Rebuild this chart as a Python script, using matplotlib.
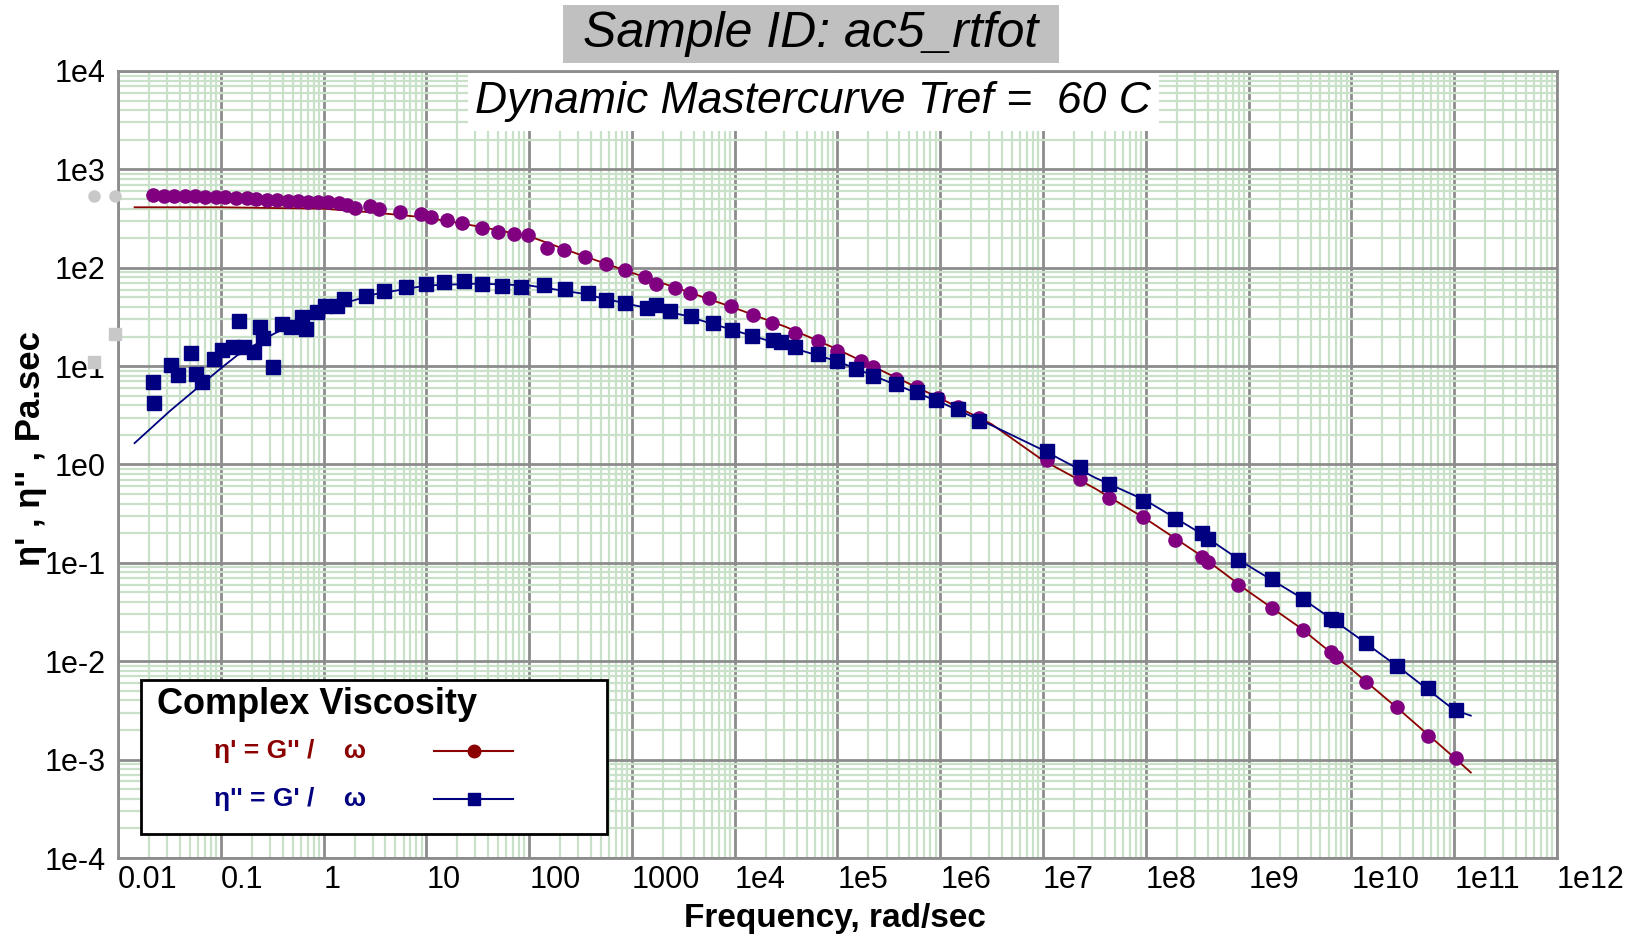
import numpy as np
import matplotlib
matplotlib.use("Agg")
import matplotlib.pyplot as plt
from matplotlib.patches import Rectangle
from matplotlib.lines import Line2D
from matplotlib.ticker import LogLocator, NullFormatter

# eta' = G''/w  (purple circles)
freq_eta1 = [0.022, 0.028, 0.035, 0.045, 0.056, 0.071, 0.089, 0.11, 0.14, 0.18, 0.22, 0.28,
             0.35, 0.45, 0.56, 0.71, 0.89, 1.1, 1.4, 1.7, 2.0, 2.8, 3.5, 5.6, 8.9,
             11, 16, 22, 35, 50, 71, 98, 150, 220, 350, 560, 850, 1350, 1700, 2600, 3700,
             5600, 9300, 1.5e4, 2.3e4, 3.9e4, 6.5e4, 1.0e5, 1.7e5, 2.2e5, 3.7e5, 6.0e5,
             9.5e5, 1.5e6, 2.4e6, 1.1e7, 2.3e7, 4.4e7, 9.3e7, 1.9e8, 3.5e8, 4.0e8, 7.9e8,
             1.7e9, 3.4e9, 6.3e9, 7.0e9, 1.4e10, 2.8e10, 5.6e10, 1.05e11]
eta1 = [543, 537, 537, 531, 531, 525, 525, 520, 515, 507, 495, 490, 490, 478, 478, 470, 468,
        465, 455, 432, 405, 420, 395, 372, 351,
        331, 309, 285, 251, 229, 219, 214,
        157, 151, 129, 110, 95, 81, 69, 62, 55, 49, 41,
        33, 27.5, 21.9, 18, 14.3, 11.2, 9.8, 7.4, 6.1, 4.7, 3.8, 3.0,
        1.10, 0.72, 0.46, 0.29, 0.171, 0.116, 0.101, 0.060,
        0.035, 0.021, 0.0124, 0.011, 0.0062, 0.0034, 0.00174, 0.00104]

# eta'' = G'/w  (navy squares)
freq_eta2 = [0.0217, 0.0226, 0.033, 0.038, 0.051, 0.058, 0.066, 0.085, 0.102, 0.132, 0.15,
             0.17, 0.21, 0.24, 0.26, 0.32, 0.39, 0.48, 0.62, 0.68, 0.87,
             1.03, 1.34, 1.58, 2.6, 3.9, 6.3, 10, 15, 23, 35, 54, 83,
             138, 224, 372, 562, 851, 1410, 1700, 2340, 3720, 6170, 9330,
             1.48e4, 2.34e4, 2.8e4, 3.9e4, 6.5e4, 1.0e5, 1.5e5, 2.2e5, 3.7e5, 6.0e5, 9.1e5,
             1.5e6, 2.4e6, 1.1e7, 2.3e7, 4.4e7, 9.3e7, 1.9e8, 3.5e8, 4.0e8, 7.9e8,
             1.7e9, 3.4e9, 6.3e9, 7.0e9, 1.4e10, 2.8e10, 5.6e10, 1.05e11]
eta2 = [6.9, 4.2, 10.2, 8.1, 13.5, 8.4, 6.9, 11.7, 14.5, 15.5, 28.8, 15.8, 13.8, 24.8, 19.1,
        9.8, 26.9, 24.8, 31.6, 24, 35.5,
        40.7, 40.7, 47.9, 51.3, 57.5, 63.1, 67.6, 71.6, 73.3, 67.6, 65.3, 63.1,
        66.1, 60.3, 55, 46.8, 43.7, 38.9, 41.7, 36.3, 32.4, 27.5, 23.4,
        20.2, 18.6, 17.4, 15.5, 13.2, 11.2, 9.3, 7.9, 6.6, 5.4, 4.5,
        3.7, 2.8, 1.37, 0.94, 0.63, 0.43, 0.277, 0.20, 0.176, 0.107,
        0.068, 0.043, 0.027, 0.026, 0.0155, 0.0089, 0.0053, 0.0032]

# fitted mastercurves
fit_freq1 = [0.0145, 0.1, 1, 3.2, 10, 32, 100, 316, 1000, 3162, 1e4, 3.16e4, 1e5, 3.16e5,
             1e6, 3.16e6, 1e7, 3.16e7, 1e8, 3.16e8, 1e9, 3.16e9, 1e10, 3.16e10, 1e11, 1.45e11]
fit_eta1 = [412, 412, 398, 363, 324, 263, 209, 135, 89, 59, 39, 25, 14.8, 8.3,
            4.7, 2.57, 1.1, 0.575, 0.28, 0.126, 0.051, 0.022, 0.0083, 0.0030, 0.00105, 0.00074]
fit_freq2 = [0.0145, 0.032, 0.1, 0.145, 0.32, 1, 3.2, 10, 32, 100, 316, 1000, 3162, 1e4,
             3.16e4, 1e5, 3.16e5, 1e6, 3.16e6, 1e7, 3.16e7, 1e8, 3.16e8, 1e9, 3.16e9, 1e10,
             3.16e10, 1e11, 1.45e11]
fit_eta2 = [1.65, 3.5, 9.5, 12.9, 21, 38, 54, 66, 69, 66, 55, 42, 33, 23,
            16, 11.2, 6.9, 4.3, 2.5, 1.4, 0.74, 0.43, 0.21, 0.093, 0.045, 0.0195,
            0.0081, 0.0032, 0.0028]

# grey markers left of the plot frame
off_freq = [0.0058, 0.0093]
off_eta1 = [542, 542]
off_eta2 = [11, 21]

x_ticks = [1e-2, 1e-1, 1, 1e1, 1e2, 1e3, 1e4, 1e5, 1e6, 1e7, 1e8, 1e9, 1e10, 1e11, 1e12]
x_labels = ["0.01", "0.1", "1", "10", "100", "1000", "1e4", "1e5", "1e6", "1e7", "1e8",
            "1e9", "1e10", "1e11", "1e12"]
y_ticks = [1e-4, 1e-3, 1e-2, 1e-1, 1, 1e1, 1e2, 1e3, 1e4]
y_labels = ["1e-4", "1e-3", "1e-2", "1e-1", "1e0", "1e1", "1e2", "1e3", "1e4"]

W, H = 1641, 935
def fx(px):
    return px / W
def fy(py):
    return 1 - py / H

narrow = ["Liberation Sans Narrow", "Liberation Sans", "DejaVu Sans"]
sans = ["Liberation Sans", "DejaVu Sans"]

fig = plt.figure(figsize=(16.41, 9.35), dpi=100)
ax = fig.add_axes([fx(118), fy(858), fx(1557) - fx(118), fy(71) - fy(858)])
ax.set_xscale("log")
ax.set_yscale("log")
ax.set_xlim(1e-2, 1e12)
ax.set_ylim(1e-4, 1e4)

ax.set_xticks(x_ticks, x_labels)
ax.set_yticks(y_ticks, y_labels)
ax.xaxis.set_minor_locator(LogLocator(base=10, subs=np.arange(2, 10), numticks=300))
ax.yaxis.set_minor_locator(LogLocator(base=10, subs=np.arange(2, 10), numticks=300))
ax.xaxis.set_minor_formatter(NullFormatter())
ax.yaxis.set_minor_formatter(NullFormatter())
ax.tick_params(which="both", length=0)
ax.tick_params(axis="x", pad=5, labelsize=22)
ax.tick_params(axis="y", pad=9, labelsize=22)
for lbl in ax.get_xticklabels():
    lbl.set_ha("left")
    lbl.set_family(narrow)
for lbl in ax.get_yticklabels():
    lbl.set_family(narrow)

ax.grid(which="minor", color="#c8e1c8", lw=1.6)
ax.grid(which="major", color="#8c8c8c", lw=2.0)
ax.set_axisbelow(True)
for s in ax.spines.values():
    s.set_color("#8c8c8c")
    s.set_linewidth(2.0)

# fitted curves under the markers
ax.plot(fit_freq1, fit_eta1, color="#8b0000", lw=1.3, zorder=3)
ax.plot(fit_freq2, fit_eta2, color="#000080", lw=1.3, zorder=3)
ax.plot(freq_eta1, eta1, "o", color="#800080", ms=9.5, zorder=4)
ax.plot(freq_eta2, eta2, "s", color="#000080", ms=9.5, zorder=5)
ax.plot(off_freq, off_eta1, "o", color="#c8c8c8", ms=8, clip_on=False, zorder=5)
ax.plot(off_freq, off_eta2, "s", color="#c8c8c8", ms=8, clip_on=False, zorder=5)

# axis titles
fig.text(fx(835), fy(918), "Frequency, rad/sec", ha="center", va="center",
         fontsize=24, fontweight="bold", family=sans)
fig.text(fx(31), fy(448), "η' , η'' , Pa.sec", ha="center", va="center", rotation=90,
         fontsize=25, fontweight="bold", family=sans)

# title boxes
fig.add_artist(Rectangle((fx(563), fy(63)), fx(1059) - fx(563), fy(5) - fy(63),
                         transform=fig.transFigure, facecolor="#c0c0c0", edgecolor="none"))
fig.text(fx(811), fy(34), "Sample ID: ac5_rtfot", ha="center", va="center",
         fontsize=36, style="italic", family=sans)
fig.add_artist(Rectangle((fx(468), fy(131)), fx(1159) - fx(468), fy(73) - fy(131),
                         transform=fig.transFigure, facecolor="white", edgecolor="none",
                         zorder=5))
fig.text(fx(813), fy(101), "Dynamic Mastercurve Tref =  60 C", ha="center", va="center",
         fontsize=32, style="italic", family=sans, zorder=6)

# legend box
fig.add_artist(Rectangle((fx(141), fy(834)), fx(607) - fx(141), fy(680) - fy(834),
                         transform=fig.transFigure, facecolor="white", edgecolor="black",
                         lw=2, zorder=5))
fig.text(fx(157), fy(704), "Complex Viscosity", ha="left", va="center",
         fontsize=26, fontweight="bold", family=sans, zorder=6)
fig.text(fx(214), fy(751), "η' = G'' /    ω", ha="left", va="center", color="#8b0000",
         fontsize=19, fontweight="bold", family=sans, zorder=6)
fig.text(fx(214), fy(799), "η'' = G' /    ω", ha="left", va="center", color="#000080",
         fontsize=19, fontweight="bold", family=sans, zorder=6)
fig.add_artist(Line2D([fx(434), fx(474), fx(513)], [fy(751)] * 3, transform=fig.transFigure,
                      color="#8b0000", lw=1.5, marker="o", ms=9, markevery=[1], zorder=6))
fig.add_artist(Line2D([fx(434), fx(474), fx(513)], [fy(799)] * 3, transform=fig.transFigure,
                      color="#000080", lw=1.5, marker="s", ms=9, markevery=[1], zorder=6))

plt.savefig("out.png", dpi=100)
